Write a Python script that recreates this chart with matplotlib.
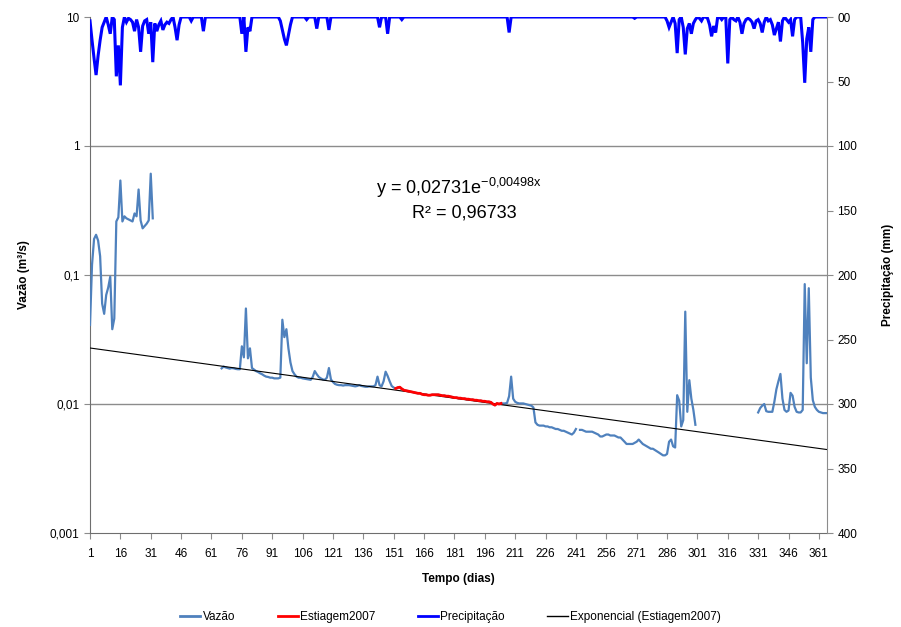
import numpy as np
import matplotlib
matplotlib.use("Agg")
import matplotlib.pyplot as plt
from matplotlib.lines import Line2D
from matplotlib.ticker import FixedLocator, FixedFormatter, NullLocator

plt.rcParams['font.family'] = ['Liberation Sans', 'DejaVu Sans']
plt.rcParams['mathtext.fontset'] = 'custom'
plt.rcParams['mathtext.rm'] = 'Liberation Sans'
plt.rcParams['mathtext.default'] = 'regular'

# ---- daily flow (m3/s), by continuous stretches of record ----
vazao_jan_start = 1
vazao_jan = [0.041, 0.12, 0.19, 0.205, 0.185, 0.14, 0.06, 0.05, 0.07, 0.08,
             0.097, 0.038, 0.046, 0.26, 0.28, 0.54, 0.26, 0.285, 0.275, 0.27,
             0.265, 0.26, 0.30, 0.285, 0.46, 0.265, 0.23, 0.24, 0.25, 0.265,
             0.61, 0.275]

vazao_mar_start = 66
vazao_mar = [0.0189, 0.0195, 0.0192, 0.019, 0.0188, 0.019, 0.0189, 0.0187, 0.0186, 0.0186,
             0.028, 0.023, 0.055, 0.0226, 0.027, 0.019, 0.0185, 0.018, 0.0177, 0.0173,
             0.017, 0.0166, 0.0163, 0.0162, 0.016, 0.016, 0.0158, 0.0158, 0.0158, 0.016,
             0.045, 0.033, 0.038, 0.027, 0.021, 0.018, 0.017, 0.0163, 0.016, 0.016,
             0.0158, 0.0157, 0.0156, 0.0155, 0.0154, 0.0162, 0.018, 0.017, 0.0162, 0.0158,
             0.0155, 0.0154, 0.016, 0.019, 0.0155, 0.0148, 0.0143, 0.0141, 0.014, 0.014,
             0.0139, 0.014, 0.014, 0.014, 0.0139, 0.0138, 0.0137, 0.0138, 0.014, 0.0138,
             0.0137, 0.0136, 0.0136, 0.0137, 0.0137, 0.0137, 0.014, 0.0163, 0.014, 0.0137,
             0.015, 0.0178, 0.0165, 0.015, 0.0138, 0.0134]

# dry-season recession 2007 (days 152-204)
estiagem_start = 152
estiagem = [0.0132, 0.0134, 0.0135, 0.0131, 0.0128, 0.0127, 0.0126, 0.0125, 0.0124, 0.0123,
            0.0122, 0.0121, 0.0121, 0.0119, 0.0118, 0.0118, 0.0117, 0.0117, 0.0118, 0.0118,
            0.0118, 0.0118, 0.0117, 0.0116, 0.0116, 0.0115, 0.0115, 0.0114, 0.0113, 0.0112,
            0.0112, 0.0111, 0.0111, 0.0110, 0.0110, 0.0109, 0.0109, 0.0108, 0.0108, 0.0107,
            0.0107, 0.0106, 0.0106, 0.0105, 0.0105, 0.0104, 0.0104, 0.0103, 0.0100, 0.0098,
            0.0101, 0.0100, 0.0101]

vazao_jul_start = 205
vazao_jul = [0.0101, 0.0101, 0.0102, 0.0115, 0.0163, 0.0110, 0.0104, 0.0102, 0.0101, 0.0101,
             0.0101, 0.0100, 0.0099, 0.0098, 0.0097, 0.0094, 0.0072, 0.0069, 0.0068, 0.0068,
             0.0068, 0.0067, 0.0067, 0.0066, 0.0066, 0.0065, 0.0064, 0.0064, 0.0063, 0.0062,
             0.0062, 0.0061, 0.0060, 0.0059, 0.0058, 0.0060, 0.0064]

vazao_set_start = 243
vazao_set = [0.0063, 0.0063, 0.0062, 0.0061, 0.0061, 0.0061, 0.0061, 0.0060, 0.0059, 0.0058,
             0.0056, 0.0056, 0.0057, 0.0058, 0.0058, 0.0057, 0.0057, 0.0057, 0.0056, 0.0055,
             0.0055, 0.0053, 0.0051, 0.0049, 0.0049, 0.0049, 0.0049, 0.0050, 0.0051, 0.0053,
             0.0051, 0.0049, 0.0048, 0.0047, 0.0046, 0.0045, 0.0045, 0.0044, 0.0043, 0.0042,
             0.0041, 0.0040, 0.0040, 0.0041, 0.0051, 0.0053, 0.0047, 0.0046, 0.0117, 0.0106,
             0.0067, 0.0075, 0.052, 0.0087, 0.0153, 0.0110, 0.0090, 0.0069]

vazao_dez_start = 331
vazao_dez = [0.0086, 0.0093, 0.0097, 0.0100, 0.0088, 0.0087, 0.0087, 0.0087, 0.0104, 0.0130,
             0.0150, 0.0171, 0.0110, 0.0090, 0.0087, 0.0089, 0.0122, 0.0116, 0.0095, 0.0087,
             0.0086, 0.0086, 0.0090, 0.085, 0.0207, 0.079, 0.016, 0.0107, 0.0095, 0.0090,
             0.0087, 0.0086, 0.0085, 0.0085, 0.0085]

# ---- daily rainfall (mm): days with rain ----
rain_days = [1, 2, 3, 4, 5, 6, 7, 8, 10, 11, 13, 14, 15, 16, 17, 19, 20, 21, 22, 23,
             24, 25, 26, 27, 28, 29, 30, 31, 32, 33, 34, 35, 36, 37, 38, 39, 40, 41, 43, 44,
             45, 51, 57, 76, 78, 79, 80, 95, 96, 97, 98, 99, 100, 108, 113, 119, 144, 148,
             155, 208, 270,
             286, 287, 288, 290, 291, 292, 294, 295, 296, 297, 298, 299, 300, 302, 303, 306,
             307, 308, 309, 310, 313, 316, 317, 319, 320, 322, 323, 324, 325, 326, 327, 328,
             329, 330, 331, 332, 333, 334, 336, 337, 338, 339, 340, 341, 342, 343, 345, 346,
             347, 348, 349, 353, 354, 355, 356, 357, 358]
rain_mm = [3, 18, 32, 45, 30, 18, 8, 4, 6, 13, 2, 46, 22, 53, 8, 4, 1, 2, 4, 11,
           2, 8, 27, 7, 3, 2, 13, 4, 35, 5, 11, 6, 3, 10, 6, 4, 5, 2, 8, 18,
           6, 3, 11, 13, 27, 8, 11, 3, 10, 17, 22, 14, 6, 2, 9, 10, 8, 13,
           2, 12, 1,
           3, 8, 4, 5, 28, 2, 8, 29, 9, 5, 13, 5, 2, 1, 3, 1,
           6, 15, 7, 12, 2, 36, 2, 2, 3, 4, 13, 5, 2, 1, 2, 4,
           9, 3, 2, 5, 12, 4, 3, 2, 6, 14, 9, 4, 19, 3, 2, 4,
           2, 15, 2, 20, 51, 17, 8, 27, 2]

# exponential fit of the 2007 recession
fit_a = 0.02731
fit_b = -0.00498
fit_r2 = "0,96733"

x_ticks = list(range(1, 366, 15))
left_ticks = [0.001, 0.01, 0.1, 1, 10]
left_labels = ["0,001", "0,01", "0,1", "1", "10"]
right_ticks = list(range(0, 401, 50))
right_labels = ["00"] + [str(v) for v in right_ticks[1:]]

# ---- assemble daily series ----
days = np.arange(1, 366)
vazao = np.full(365, np.nan)
for start, seg in [(vazao_jan_start, vazao_jan), (vazao_mar_start, vazao_mar),
                   (estiagem_start, estiagem), (vazao_jul_start, vazao_jul),
                   (vazao_set_start, vazao_set), (vazao_dez_start, vazao_dez)]:
    vazao[start - 1:start - 1 + len(seg)] = seg

estiagem_days = np.arange(estiagem_start, estiagem_start + len(estiagem))
precip = np.zeros(365)
precip[np.array(rain_days) - 1] = rain_mm
trend = fit_a * np.exp(fit_b * days)

# ---- figure ----
fig = plt.figure(figsize=(9.01, 6.27), dpi=100)
ax = fig.add_axes([90 / 901, 1 - 533 / 627, (827 - 90) / 901, (533 - 17) / 627])

c_vazao = "#4F81BD"
c_red = "#FF0000"
c_prec = "#0000FF"

ax.set_yscale("log")
ax.set_ylim(0.001, 10)
ax.set_xlim(1, 365)
for g in [0.01, 0.1, 1]:
    ax.axhline(g, color="#8C8C8C", lw=1.0, zorder=1)

ax.plot(days, vazao, color=c_vazao, lw=1.6, zorder=3)
ax.plot(days, trend, color="black", lw=0.8, zorder=4)
ax.plot(estiagem_days, estiagem, color=c_red, lw=2.0, zorder=5)

ax.yaxis.set_major_locator(FixedLocator(left_ticks))
ax.yaxis.set_major_formatter(FixedFormatter(left_labels))
ax.yaxis.set_minor_locator(NullLocator())
ax.xaxis.set_major_locator(FixedLocator(x_ticks))
ax.set_xticklabels([str(t) for t in x_ticks])
ax.tick_params(axis="both", labelsize=8.5, direction="out", length=4, color="#8C8C8C")
ax.tick_params(axis="x", pad=7)

for s in ["left", "bottom"]:
    ax.spines[s].set_color("#6E6E6E")
ax.spines["top"].set_visible(False)
ax.spines["right"].set_visible(False)

ax.set_xlabel("Tempo (dias)", fontsize=8.5, fontweight="bold", labelpad=9)
ax.set_ylabel("Vazão (m³/s)", fontsize=8.5, fontweight="bold", labelpad=14)

# rainfall on the inverted right-hand axis
ax2 = ax.twinx()
ax2.set_ylim(400, 0)
ax2.plot(days, precip, color=c_prec, lw=2.2, zorder=3, solid_joinstyle="miter")
ax2.yaxis.set_major_locator(FixedLocator(right_ticks))
ax2.yaxis.set_major_formatter(FixedFormatter(right_labels))
ax2.tick_params(axis="y", labelsize=8.5, direction="out", length=4, color="#8C8C8C")
ax2.spines["right"].set_color("#8C8C8C")
ax2.spines["top"].set_visible(False)
ax2.spines["left"].set_visible(False)
ax2.spines["bottom"].set_visible(False)
ax2.set_ylabel("Precipitação (mm)", fontsize=8.5, fontweight="bold", labelpad=18)

a_txt = str(fit_a).replace('.', ',')
b_txt = str(fit_b).replace('.', '{,}')
ax.text(0.5, 0.668, f"y = {a_txt}e$^{{{b_txt}x}}$",
        transform=ax.transAxes, ha="center", va="center", fontsize=13)
ax.text(0.508, 0.62, f"R² = {fit_r2}", transform=ax.transAxes,
        ha="center", va="center", fontsize=13)

handles = [Line2D([], [], color=c_vazao, lw=2),
           Line2D([], [], color=c_red, lw=2),
           Line2D([], [], color=c_prec, lw=2),
           Line2D([], [], color="black", lw=1)]
labels = ["Vazão", "Estiagem2007", "Precipitação", "Exponencial (Estiagem2007)"]
fig.legend(handles, labels, loc="center", bbox_to_anchor=(0.5, 1 - 617 / 627), ncol=4,
           frameon=False, fontsize=8.5, handlelength=1.7, handletextpad=0.2,
           columnspacing=3.6)

fig.savefig("out.png", dpi=100)
